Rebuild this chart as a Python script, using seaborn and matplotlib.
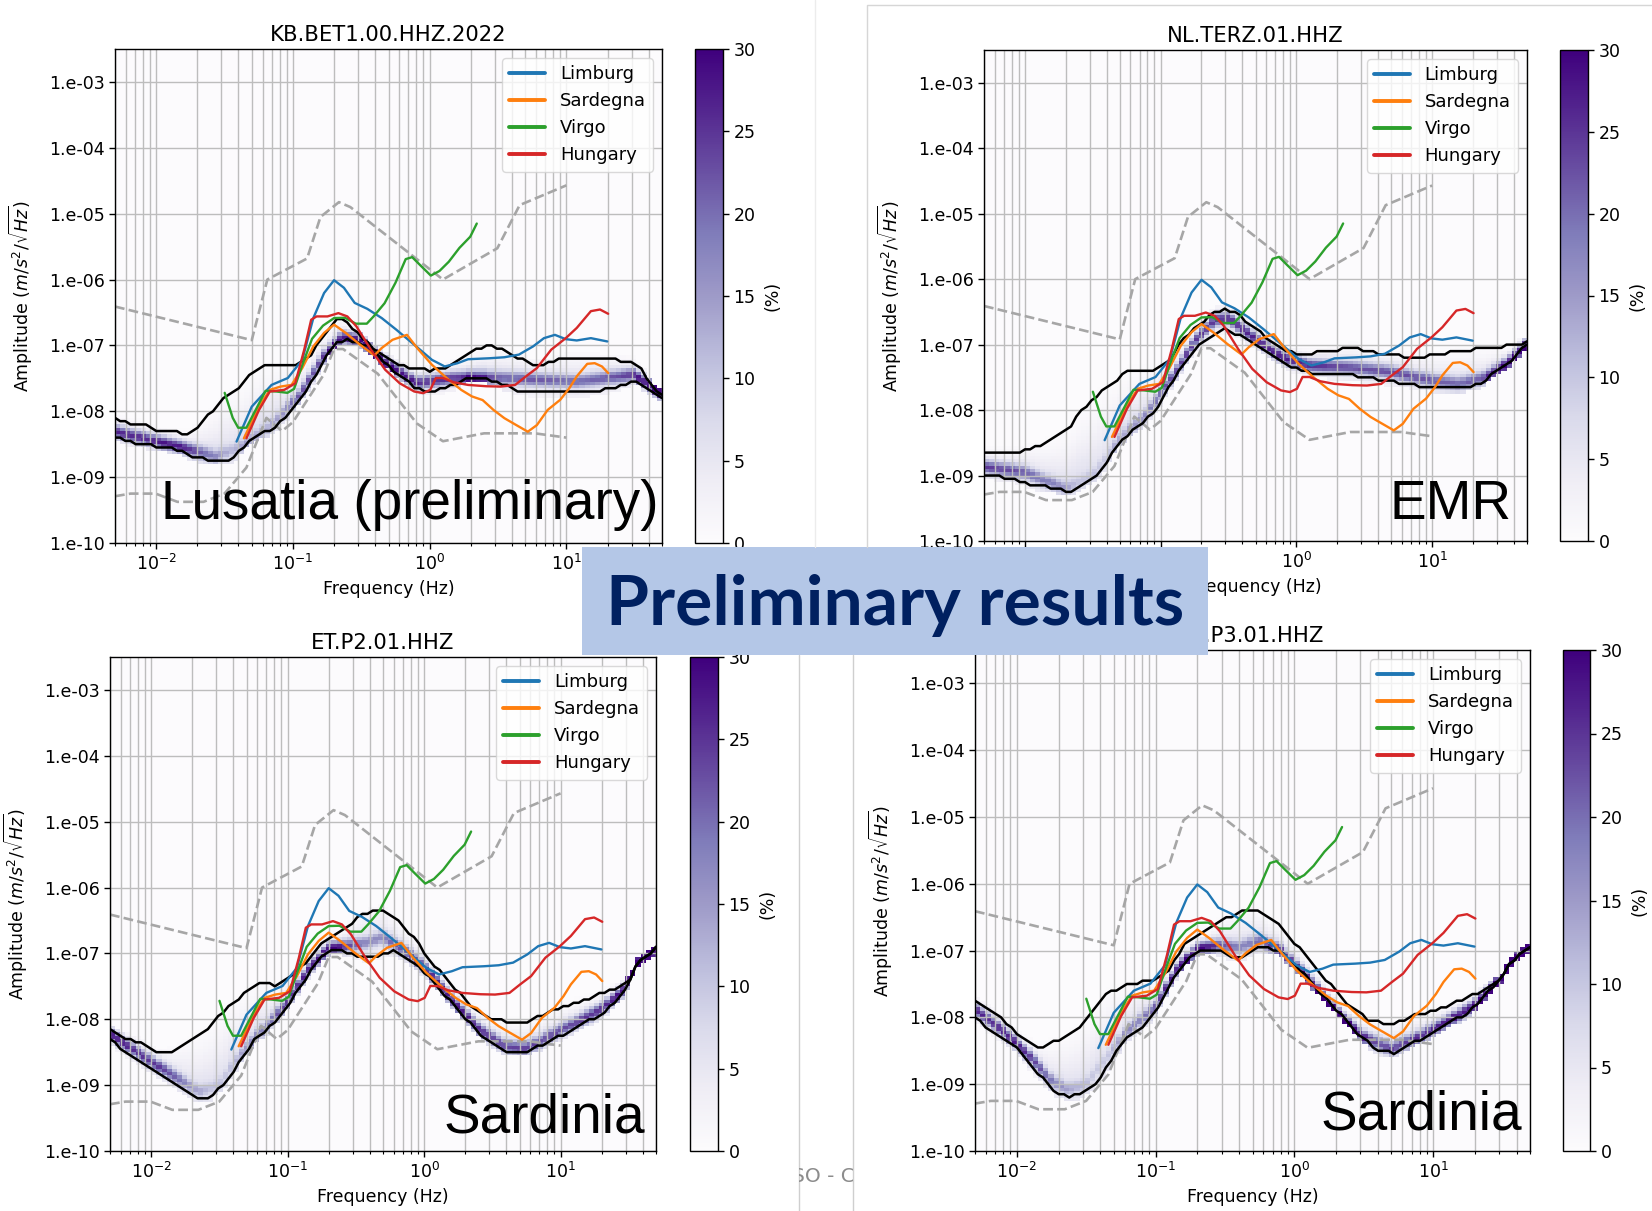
import numpy as np
import matplotlib
matplotlib.use("Agg")
import matplotlib.pyplot as plt
import seaborn as sns
from matplotlib.ticker import FuncFormatter, LogLocator, NullLocator
from matplotlib.patches import Rectangle
from matplotlib.lines import Line2D

W, H, DPI = 1652, 1211, 100

# ---------------------------------------------------------------------------
# Reference site spectra: frequency (Hz) and PSD (dB rel. 1 (m/s^2)^2/Hz)
# ---------------------------------------------------------------------------
limburg_f = [0.0387, 0.05, 0.0698, 0.0918, 0.117, 0.141, 0.169, 0.2, 0.236, 0.283,
             0.35, 0.446, 0.569, 0.771, 1.04, 1.29, 1.6, 1.91, 2.75, 3.52, 4.49,
             5.71, 6.85, 8.24, 9.89, 11.9, 15.1, 19.9]
limburg_db = [-169.2, -158.6, -152.0, -149.9, -144.4, -131.7, -124.1, -120.2, -122.5,
              -127.1, -128.9, -131.7, -135.2, -139.8, -144.4, -146.4, -145.4, -144.2,
              -143.9, -143.6, -142.8, -140.3, -137.8, -136.8, -138.1, -138.5, -137.8,
              -138.8]

sardegna_f = [0.0438, 0.0565, 0.0678, 0.0813, 0.0977, 0.117, 0.141, 0.169, 0.2, 0.243,
              0.31, 0.394, 0.446, 0.535, 0.682, 0.818, 1.04, 1.33, 1.7, 2.04, 2.44,
              2.93, 3.52, 4.22, 5.22, 6.08, 7.29, 9.02, 10.5, 11.9, 14.2, 16.1, 18.2,
              20.2]
sardegna_db = [-168.2, -158.6, -153.5, -152.5, -152.0, -146.9, -140.3, -136.2, -133.7,
               -136.2, -139.8, -143.0, -140.8, -138.3, -136.8, -141.0, -145.9, -149.9,
               -153.5, -155.5, -156.6, -159.6, -162.1, -164.0, -166.2, -164.2, -159.6,
               -156.5, -153.0, -149.4, -145.6, -145.4, -146.4, -148.4]

virgo_f = [0.0317, 0.0363, 0.0398, 0.0457, 0.0531, 0.0631, 0.0759, 0.0912, 0.102,
           0.117, 0.138, 0.166, 0.2, 0.24, 0.288, 0.347, 0.389, 0.468, 0.562, 0.668,
           0.745, 0.851, 1.02, 1.18, 1.38, 1.65, 1.98, 2.21]
virgo_db = [-154.4, -162.0, -165.0, -165.0, -159.8, -153.8, -154.0, -154.4, -153.2,
            -146.0, -138.0, -134.0, -131.7, -131.6, -133.4, -133.4, -131.2, -127.2,
            -121.0, -113.8, -113.2, -115.6, -118.8, -117.4, -114.6, -110.4, -107.0,
            -103.0]

hungary_f = [0.0457, 0.0565, 0.0678, 0.0865, 0.104, 0.121, 0.136, 0.149, 0.179, 0.215,
             0.25, 0.291, 0.372, 0.473, 0.604, 0.771, 0.897, 1.01, 1.11, 1.25, 1.5,
             1.91, 2.59, 3.31, 4.22, 5.06, 6.08, 7.74, 9.89, 11.9, 15.1, 17.6, 20.2]
hungary_db = [-168.2, -159.6, -154.0, -153.5, -151.5, -141.3, -132.2, -131.2, -131.2,
              -130.2, -131.2, -134.2, -141.3, -147.4, -151.5, -154.0, -154.5, -153.5,
              -149.9, -149.9, -151.2, -152.0, -152.4, -152.5, -152.0, -149.4, -146.9,
              -141.3, -137.8, -134.7, -129.6, -129.1, -130.4]

# Peterson high / low noise models
nhnm_f = [0.005, 0.05, 0.065, 0.127, 0.159, 0.217, 0.263, 1.25, 3.125, 4.55, 10.0]
nhnm_db = [-128.2, -138.4, -120.0, -113.6, -101.0, -96.5, -98.0, -120.0, -110.5, -97.4, -91.4]
nlnm_f = [0.005, 0.0065, 0.0099, 0.0143, 0.0222, 0.0316, 0.0457, 0.064, 0.0833, 0.1,
          0.1667, 0.2, 0.2326, 0.417, 0.806, 1.25, 2.5, 5.88, 10.0]
nlnm_db = [-185.8, -185.0, -185.0, -187.5, -187.5, -185.0, -177.1, -162.0, -166.0, -163.3,
           -149.1, -141.1, -141.1, -148.6, -163.7, -169.1, -166.7, -166.7, -168.0]

# ---------------------------------------------------------------------------
# Station PPSDs: upper / lower percentile and mode (Hz, dB)
# ---------------------------------------------------------------------------
bet1_hi_f = [0.005, 0.00634, 0.00809, 0.011, 0.0128, 0.0149, 0.0178, 0.0214, 0.0272,
             0.0327, 0.0417, 0.05, 0.06, 0.0721, 0.0918, 0.110, 0.132, 0.158, 0.19,
             0.215, 0.258, 0.31, 0.394, 0.504, 0.641, 0.818, 1.04, 1.25, 1.5, 1.91,
             2.3, 2.76, 3.31, 4.22, 5.71, 7.29, 9.89, 16.1, 31.3, 35.4, 40.0, 50.9]
bet1_hi_db = [-162.1, -163.7, -163.9, -166.5, -166.2, -166.5, -166.7, -163.7, -158.6,
              -155.5, -152.5, -148.4, -145.9, -146.4, -146.4, -145.4, -143.4, -138.3,
              -133.7, -131.7, -133.7, -137.3, -141.3, -144.4, -146.4, -147.4, -147.6,
              -147.2, -145.4, -143.1, -140.8, -140.1, -140.8, -143.4, -145.9, -145.4,
              -143.9, -143.9, -144.9, -147.4, -151.5, -155.5]
bet1_lo_f = [0.005, 0.00634, 0.00912, 0.0149, 0.0201, 0.0256, 0.0348, 0.0417, 0.05,
             0.0678, 0.0865, 0.110, 0.141, 0.169, 0.202, 0.243, 0.291, 0.35, 0.446,
             0.569, 0.771, 0.925, 1.18, 1.5, 1.91, 2.59, 3.31, 4.22, 6.46, 11.9, 21.8,
             33.3, 37.6, 45.1, 52.5]
bet1_lo_db = [-167.7, -169.2, -170.3, -171.8, -174.3, -174.8, -174.8, -171.8, -168.2,
              -165.7, -162.6, -156.5, -150.5, -144.4, -139.3, -138.3, -138.8, -140.3,
              -144.4, -148.4, -152.5, -154.0, -153.5, -152.0, -149.9, -149.9, -151.5,
              -153.5, -154.5, -154.5, -153.0, -150.5, -153.0, -154.5, -156.5]
bet1_md_f = [0.005, 0.0149, 0.0272, 0.0417, 0.0678, 0.110, 0.169, 0.229, 0.31, 0.504,
             0.818, 1.5, 3.52, 11.9, 31.3, 52.5]
bet1_md_db = [-166.2, -170.8, -173.8, -170.8, -164.7, -155.5, -143.4, -137.5, -138.5,
              -146.4, -151.5, -149.9, -149.9, -151.0, -148.9, -155.5]

terz_hi_f = [0.005, 0.00885, 0.0113, 0.0144, 0.0183, 0.022, 0.0264, 0.0316, 0.0379,
             0.0483, 0.0579, 0.0914, 0.113, 0.144, 0.183, 0.233, 0.289, 0.379, 0.514,
             0.695, 0.885, 1.13, 1.44, 1.95, 2.64, 3.57, 4.83, 7.38, 10.6, 16.3, 26.4,
             37.9, 50.0]
terz_hi_db = [-172.9, -172.9, -171.4, -169.9, -167.3, -164.8, -159.6, -157.1, -153.5,
              -150.4, -147.9, -147.9, -145.3, -138.7, -134.6, -131.0, -129.0, -131.0,
              -135.6, -139.7, -142.3, -142.8, -142.3, -141.7, -140.7, -142.3, -143.3,
              -143.8, -143.3, -141.7, -141.2, -140.2, -139.4]
terz_lo_f = [0.005, 0.00546, 0.00834, 0.0113, 0.0153, 0.0207, 0.0248, 0.0316, 0.0379,
             0.0455, 0.0579, 0.0738, 0.0942, 0.12, 0.153, 0.195, 0.248, 0.298, 0.403,
             0.579, 0.785, 1.06, 1.44, 2.64, 4.29, 6.55, 10.0, 16.3, 22.0, 29.8, 37.9,
             50.0]
terz_lo_db = [-179.6, -179.8, -181.1, -182.7, -183.7, -184.9, -183.7, -180.6, -178.1,
              -171.4, -167.3, -164.2, -159.1, -152.0, -144.8, -139.7, -136.6, -135.1,
              -137.6, -141.7, -145.3, -147.9, -148.9, -149.4, -150.9, -152.0, -153.2,
              -153.5, -152.0, -148.4, -144.8, -139.8]
terz_md_f = [0.005, 0.01, 0.02, 0.0316, 0.0501, 0.0794, 0.126, 0.178, 0.251, 0.316,
             0.398, 0.562, 0.794, 1.26, 2.51, 5.01, 10.0, 15.8, 25.1, 35.5, 50.0]
terz_md_db = [-177.4, -179.0, -184.0, -180.0, -169.0, -161.0, -149.0, -139.0, -132.4,
              -132.0, -135.0, -140.0, -144.0, -146.4, -147.0, -148.4, -151.0, -152.0,
              -150.0, -146.0, -140.0]

p2_hi_f = [0.005, 0.00614, 0.0083, 0.0119, 0.0152, 0.0205, 0.0277, 0.0332, 0.0449,
           0.0607, 0.082, 0.104, 0.133, 0.169, 0.215, 0.274, 0.348, 0.485, 0.637, 0.861,
           1.16, 1.57, 2.12, 3.05, 4.38, 5.92, 8.0, 11.5, 18.6, 26.7, 32.0, 36.1, 50.0]
p2_hi_db = [-163.4, -165.4, -166.9, -170.5, -169.4, -165.9, -161.8, -157.8, -153.2,
            -149.1, -149.6, -147.1, -143.0, -138.0, -134.9, -131.9, -128.3, -126.8,
            -129.8, -135.9, -143.0, -149.1, -155.2, -159.8, -160.8, -160.8, -157.8,
            -155.7, -152.7, -150.2, -148.6, -143.0, -138.5]
p2_lo_f = [0.005, 0.00652, 0.00935, 0.0134, 0.0205, 0.0261, 0.0352, 0.0449, 0.0571,
           0.0771, 0.0982, 0.133, 0.169, 0.202, 0.243, 0.309, 0.393, 0.5, 0.598, 0.762,
           1.03, 1.39, 1.88, 2.55, 3.44, 4.12, 5.74, 8.49, 11.5, 21.0, 30.1, 36.1, 50.0]
p2_lo_db = [-166.0, -170.5, -174.5, -178.6, -183.7, -183.7, -179.6, -172.5, -166.4,
            -161.8, -156.2, -148.1, -142.0, -139.0, -138.8, -140.5, -141.5, -140.0,
            -139.0, -141.5, -146.1, -152.2, -158.3, -164.4, -168.4, -169.9, -169.9,
            -166.4, -163.9, -157.8, -151.2, -143.0, -138.5]
p2_md_f = [0.005, 0.01, 0.0158, 0.0224, 0.0316, 0.0447, 0.0631, 0.1, 0.141, 0.2, 0.251,
           0.355, 0.501, 0.708, 1.0, 1.58, 2.51, 3.98, 5.62, 10.0, 20.0, 28.2, 36.3, 50.0]
p2_md_db = [-164.4, -173.0, -178.0, -182.0, -180.0, -171.0, -164.0, -155.0, -145.0,
            -138.6, -138.0, -137.0, -135.0, -139.0, -144.0, -154.0, -163.0, -168.4,
            -169.0, -163.4, -157.0, -151.6, -143.0, -138.6]

p3_hi_f = [0.005, 0.00644, 0.0082, 0.0111, 0.0141, 0.0179, 0.0229, 0.029, 0.0348,
           0.0444, 0.0564, 0.0762, 0.097, 0.124, 0.167, 0.212, 0.287, 0.388, 0.466,
           0.557, 0.71, 0.959, 1.3, 1.86, 2.52, 3.4, 4.33, 5.51, 7.01, 11.4, 20.7, 31.6,
           35.6, 51.2]
p3_hi_db = [-155.0, -158.2, -161.2, -166.7, -169.2, -167.7, -165.7, -162.7, -158.7,
            -153.2, -150.7, -149.7, -148.7, -145.7, -137.2, -135.2, -131.7, -128.7,
            -127.9, -127.9, -130.7, -136.7, -142.7, -150.7, -156.7, -160.7, -161.7,
            -161.7, -159.7, -157.2, -152.7, -148.2, -143.7, -138.2]
p3_lo_f = [0.005, 0.00644, 0.00925, 0.0133, 0.0191, 0.0236, 0.029, 0.037, 0.0471,
           0.0598, 0.0809, 0.103, 0.131, 0.167, 0.212, 0.27, 0.344, 0.438, 0.557, 0.668,
           0.849, 1.15, 1.55, 2.23, 3.01, 4.07, 5.51, 7.91, 11.4, 18.4, 31.6, 35.6, 51.2]
p3_lo_db = [-160.0, -163.7, -167.7, -175.7, -182.2, -183.7, -182.7, -179.7, -173.7,
            -166.2, -162.7, -157.7, -149.2, -142.7, -139.7, -139.7, -141.5, -141.9,
            -139.2, -138.9, -141.5, -146.7, -152.7, -159.7, -165.7, -170.2, -170.7,
            -166.7, -163.2, -158.2, -147.7, -143.7, -138.2]
p3_md_f = [0.005, 0.00794, 0.0126, 0.0178, 0.0234, 0.0316, 0.0447, 0.0631, 0.1, 0.141,
           0.2, 0.282, 0.398, 0.562, 0.794, 1.26, 2.0, 3.16, 5.01, 7.94, 12.6, 20.0,
           30.2, 35.5, 50.0]
p3_md_db = [-157.6, -164.0, -172.0, -179.0, -181.6, -180.0, -172.0, -164.0, -157.0,
            -146.0, -139.6, -138.4, -139.0, -137.0, -140.0, -148.4, -159.0, -166.0,
            -169.6, -166.0, -161.4, -156.6, -149.0, -144.0, -138.6]

site_names = ["Limburg", "Sardegna", "Virgo", "Hungary"]
site_colors = ["#1f77b4", "#ff7f0e", "#2ca02c", "#d62728"]
site_curves = [(limburg_f, limburg_db), (sardegna_f, sardegna_db),
               (virgo_f, virgo_db), (hungary_f, hungary_db)]

station_titles = ["KB.BET1.00.HHZ.2022", "NL.TERZ.01.HHZ", "ET.P2.01.HHZ", "ET.P3.01.HHZ"]
region_labels = ["Lusatia (preliminary)", "EMR", "Sardinia", "Sardinia"]
station_curves = [
    ((bet1_hi_f, bet1_hi_db), (bet1_lo_f, bet1_lo_db), (bet1_md_f, bet1_md_db)),
    ((terz_hi_f, terz_hi_db), (terz_lo_f, terz_lo_db), (terz_md_f, terz_md_db)),
    ((p2_hi_f, p2_hi_db), (p2_lo_f, p2_lo_db), (p2_md_f, p2_md_db)),
    ((p3_hi_f, p3_hi_db), (p3_lo_f, p3_lo_db), (p3_md_f, p3_md_db)),
]

# panel geometry in pixels: axes box, colorbar box, region label anchor (axes fraction)
axes_px = [(115, 49, 662, 543), (984, 50, 1527, 541),
           (110, 657, 656, 1151), (975, 650, 1530, 1151)]
cbar_px = [(695, 49, 723, 543), (1560, 50, 1588, 541),
           (690, 657, 718, 1151), (1563, 650, 1590, 1151)]
label_pos = [(0.994, 0.049), (0.971, 0.045), (0.981, 0.037), (0.986, 0.042)]

# ---------------------------------------------------------------------------
sns.set_theme(style="ticks")
plt.rcParams.update({
    "font.family": ["DejaVu Sans"],
    "axes.edgecolor": "black",
    "axes.linewidth": 1.0,
    "xtick.color": "black",
    "ytick.color": "black",
    "xtick.labelsize": 12.5,
    "ytick.labelsize": 12.5,
    "axes.labelsize": 12.5,
    "axes.titlesize": 15.2,
    "axes.labelcolor": "black",
    "text.color": "black",
    "xtick.major.size": 4,
    "ytick.major.size": 4,
    "xtick.minor.size": 2.2,
    "xtick.major.width": 1.0,
    "ytick.major.width": 1.0,
    "xtick.minor.width": 0.8,
})

cmap = plt.get_cmap("Purples")

F_EDGES = np.logspace(np.log10(0.005), np.log10(50), 107)
F_CENT = np.sqrt(F_EDGES[:-1] * F_EDGES[1:])
DB_EDGES = np.arange(-200.0, -49.0, 1.0)
DB_CENT = 0.5 * (DB_EDGES[:-1] + DB_EDGES[1:])
A_EDGES = 10 ** (DB_EDGES / 20.0)


def db_to_amp(db):
    return 10 ** (np.asarray(db, dtype=float) / 20.0)


def on_grid(curve, freqs):
    f, db = curve
    return np.interp(np.log10(freqs), np.log10(f), db)


def ppsd_hist(hi, lo, md):
    """Probability (%) per 1 dB bin for each frequency bin."""
    hi_b, lo_b, md_b = on_grid(hi, F_CENT), on_grid(lo, F_CENT), on_grid(md, F_CENT)
    width = np.maximum(hi_b - lo_b, 2.0)
    w_core = np.clip(0.75 - 0.03 * width, 0.1, 0.6)[:, None]
    s_diff = np.maximum(width / 2.5, 2.0)[:, None]
    d = DB_CENT[None, :] - md_b[:, None]
    core = np.exp(-0.5 * (d / 1.3) ** 2)
    diff = np.exp(-0.5 * (d / s_diff) ** 2)
    core /= core.sum(axis=1, keepdims=True)
    diff /= diff.sum(axis=1, keepdims=True)
    prob = w_core * core + (1 - w_core) * diff
    inside = (DB_CENT[None, :] >= lo_b[:, None] - 1.5) & (DB_CENT[None, :] <= hi_b[:, None] + 1.5)
    prob = np.where(inside, prob, 0.0)
    return 100 * prob / prob.sum(axis=1, keepdims=True)


fig = plt.figure(figsize=(W / DPI, H / DPI), dpi=DPI)
fig.patch.set_facecolor("white")


def px_axes(box, **kw):
    x0, y0, x1, y1 = box
    return fig.add_axes([x0 / W, 1 - y1 / H, (x1 - x0) / W, (y1 - y0) / H], **kw)


for i in range(4):
    ax = px_axes(axes_px[i])
    cax = px_axes(cbar_px[i])
    hi, lo, md = station_curves[i]

    prob = ppsd_hist(hi, lo, md)
    mesh = ax.pcolormesh(F_EDGES, A_EDGES, prob.T, cmap=cmap, vmin=0, vmax=30,
                         shading="flat", rasterized=True)

    # noise models
    for f, db in [(nhnm_f, nhnm_db), (nlnm_f, nlnm_db)]:
        sns.lineplot(x=np.asarray(f), y=db_to_amp(db), ax=ax, color="#a6a6a6",
                     linewidth=1.9, linestyle="--", sort=False, estimator=None)

    # percentile lines quantised to the 1 dB histogram bins
    for curve in (hi, lo):
        vals = np.round(on_grid(curve, F_EDGES))
        sns.lineplot(x=F_EDGES, y=db_to_amp(vals), ax=ax, color="black",
                     linewidth=1.8, sort=False, estimator=None)

    # reference sites
    for name, col, (f, db) in zip(site_names, site_colors, site_curves):
        sns.lineplot(x=np.asarray(f), y=db_to_amp(db), ax=ax, color=col,
                     linewidth=1.7, sort=False, estimator=None)

    ax.set_xscale("log")
    ax.set_yscale("log")
    ax.set_xlim(0.005, 50)
    ax.set_ylim(1e-10, 10 ** -2.5)
    ax.xaxis.set_major_locator(LogLocator(base=10, numticks=20))
    ax.xaxis.set_minor_locator(LogLocator(base=10, subs=np.arange(2, 10), numticks=40))
    ax.yaxis.set_major_locator(LogLocator(base=10, numticks=20))
    ax.yaxis.set_minor_locator(NullLocator())
    ax.yaxis.set_major_formatter(FuncFormatter(lambda v, p: format(v, "#.0e")))
    ax.set_axisbelow("line")
    ax.grid(True, which="major", axis="both", color="#bdbdbd", linewidth=1.0)
    ax.grid(True, which="minor", axis="x", color="#bdbdbd", linewidth=1.0)
    ax.tick_params(which="both", direction="out")

    ax.set_xlabel("Frequency (Hz)", labelpad=5)
    ax.set_ylabel(r"Amplitude $(m/s^2/\sqrt{Hz})$", labelpad=10)
    ax.set_title(station_titles[i], pad=6)

    handles = [Line2D([], [], color=c, linewidth=2.8, label=n)
               for n, c in zip(site_names, site_colors)]
    ax.legend(handles=handles, loc="upper right", fontsize=13, framealpha=0.8,
              edgecolor="#d0d0d0", fancybox=True, borderaxespad=0.5)

    lx, ly = label_pos[i]
    ax.text(lx, ly, region_labels[i], transform=ax.transAxes, ha="right",
            va="baseline", fontsize=39.5, family="Liberation Sans", color="black",
            zorder=6)

    cb = fig.colorbar(mesh, cax=cax, ticks=[0, 5, 10, 15, 20, 25, 30])
    cb.outline.set_linewidth(1.0)
    cax.tick_params(labelsize=12.5, length=4)
    cb.set_label("(%)", fontsize=12.5, labelpad=6)

# ---------------------------------------------------------------------------
# slide overlay: banner and page furniture
ov = fig.add_axes([0, 0, 1, 1], zorder=20)
ov.set_xlim(0, W)
ov.set_ylim(H, 0)
ov.axis("off")
ov.patch.set_alpha(0)

ov.plot([815, 815], [0, 547], color="#ececec", lw=1.0)
ov.plot([867, 867, W], [547, 5, 5], color="#d6d6d6", lw=1.0)
ov.plot([799, 799], [655, H], color="#cfcfcf", lw=1.0)
ov.plot([853, 853], [655, H], color="#cfcfcf", lw=1.0)
clip = Rectangle((799, 655), 54, H - 655, transform=ov.transData,
                 facecolor="none", edgecolor="none")
ov.add_patch(clip)
footer = ov.text(792, 1182, "SO - C", fontsize=14.5, color="#8c8c8c",
                 ha="left", va="baseline", clip_on=True)
footer.set_clip_path(clip)

ov.add_patch(Rectangle((582, 547), 626, 108, facecolor="#b4c7e7", edgecolor="none"))
ov.text(895, 625, "Preliminary results", fontsize=50, fontweight="bold",
        family=["Lato", "DejaVu Sans"], color="#002060", ha="center", va="baseline")

fig.savefig("out.png", dpi=DPI)
